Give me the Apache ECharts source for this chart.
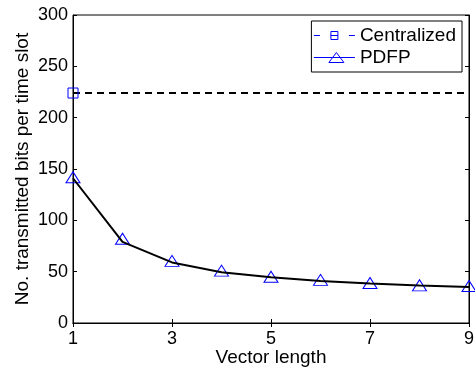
<!DOCTYPE html>
<html><head><meta charset="utf-8">
<script src="https://cdn.jsdelivr.net/npm/echarts@6/dist/echarts.min.js"></script>
<style>html,body{margin:0;padding:0;background:#fff}#c{width:475px;height:367px}</style>
</head><body><div id="c"></div>
<script>
var vectorLength = ['1','2','3','4','5','6','7','8','9'];
var centralized = [224, 224, 224, 224, 224, 224, 224, 224, 224];
var pdfpMarkers = [142, 82, 60.5, 51, 45, 42, 39, 36.7, 36];
var pdfpCurve = [141, 79, 59, 49.5, 44.5, 41, 38.5, 36.5, 35];
var yTicks = [0, 50, 100, 150, 200, 250, 300];

var font = 'Liberation Sans, Arial, Helvetica, sans-serif';
var chart = echarts.init(document.getElementById('c'), null, {renderer: 'canvas'});
var centralData = centralized.map(function (v, i) {
  return i === 0 ? {value: v} : {value: v, symbol: 'none'};
});
var iconCentral = 'path://M0,5.5H6M17,1.5H24V9.5H17ZM17,5.5H24M35,5.5H41';
var iconPdfp = 'path://M0,5.5H41M15,10.5L22.5,0.5L30,10.5Z';
chart.setOption({
  animation: false,
  backgroundColor: '#fff',
  grid: {left: 73, right: 6, top: 15, bottom: 44, show: true, borderColor: '#000', borderWidth: 1,
         containLabel: false, outerBoundsMode: 'none'},
  legend: {
    orient: 'vertical', right: 13, top: 21,
    itemWidth: 41, itemHeight: 11, itemGap: 3,
    padding: [5, 6, 5, 2],
    backgroundColor: '#fff', borderColor: '#000', borderWidth: 1, borderRadius: 0,
    textStyle: {fontFamily: font, fontSize: 19, color: '#000'},
    itemStyle: {color: 'rgba(0,0,0,0)', borderColor: '#0000ff', borderWidth: 1, opacity: 1},
    data: [
      {name: 'Centralized', icon: iconCentral},
      {name: 'PDFP', icon: iconPdfp}
    ]
  },
  xAxis: [{
    type: 'category', data: vectorLength, boundaryGap: false,
    name: 'Vector length', nameLocation: 'middle', nameGap: 25, nameMoveOverlap: false,
    nameTextStyle: {fontFamily: font, fontSize: 19, color: '#000'},
    axisLine: {lineStyle: {color: '#000', width: 1}},
    axisTick: {inside: true, length: 4, interval: 1, lineStyle: {color: '#000'}},
    axisLabel: {interval: 1, fontFamily: font, fontSize: 18, color: '#000', margin: 7},
    splitLine: {show: false}
  }, {
    type: 'category', data: vectorLength, boundaryGap: false, position: 'top',
    axisLine: {lineStyle: {color: '#000'}},
    axisTick: {inside: true, length: 4, interval: 1, lineStyle: {color: '#000'}},
    axisLabel: {show: false}, splitLine: {show: false}
  }],
  yAxis: [{
    type: 'value', min: yTicks[0], max: yTicks[yTicks.length - 1], interval: 50,
    name: 'No. transmitted bits per time slot', nameLocation: 'middle', nameGap: 41, nameMoveOverlap: false,
    nameTextStyle: {fontFamily: font, fontSize: 19, color: '#000'},
    axisLine: {show: true, lineStyle: {color: '#000', width: 1}},
    axisTick: {show: true, inside: true, length: 4, lineStyle: {color: '#000'}},
    axisLabel: {fontFamily: font, fontSize: 18, color: '#000', margin: 5},
    splitLine: {show: false}
  }, {
    type: 'value', min: yTicks[0], max: yTicks[yTicks.length - 1], interval: 50, position: 'right',
    axisLine: {show: true, lineStyle: {color: '#000'}},
    axisTick: {show: true, inside: true, length: 4, lineStyle: {color: '#000'}},
    axisLabel: {show: false}, splitLine: {show: false}
  }],
  series: [
    {
      name: 'Centralized', type: 'line', data: centralData,
      symbol: 'rect', symbolSize: 10,
      lineStyle: {color: '#0000ff', width: 1, opacity: 0},
      itemStyle: {color: 'transparent', borderColor: '#0000ff', borderWidth: 1},
      z: 5
    },
    {
      name: 'Centralized line', type: 'line', data: centralized,
      symbol: 'none',
      lineStyle: {color: '#000', width: 2, type: [7, 5]},
      z: 3
    },
    {
      name: 'PDFP', type: 'line', data: pdfpMarkers,
      symbol: 'triangle', symbolSize: [14, 11], showAllSymbol: true,
      lineStyle: {opacity: 0, color: '#0000ff', width: 1},
      itemStyle: {color: 'transparent', borderColor: '#0000ff', borderWidth: 1},
      z: 2
    },
    {
      name: 'PDFP curve', type: 'line', data: pdfpCurve,
      symbol: 'none',
      lineStyle: {color: '#000', width: 2},
      z: 4
    }
  ]
});
</script>
</body></html>
